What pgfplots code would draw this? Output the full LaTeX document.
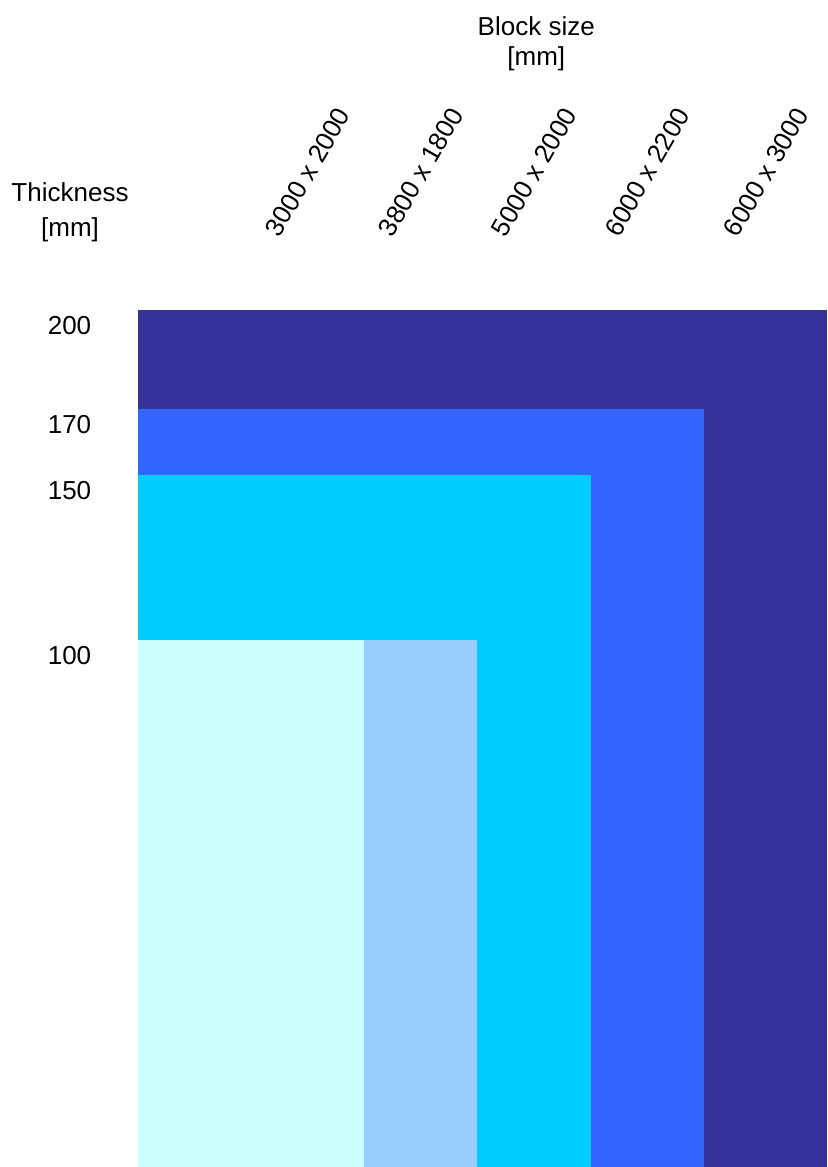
\documentclass[border=0pt]{standalone}
\usepackage{pgfplots}
\pgfplotsset{compat=1.18}
\usepackage{fontspec}
\setmainfont{Liberation Sans}
\definecolor{cNavy}{HTML}{333399}
\definecolor{cBlue}{HTML}{3366FF}
\definecolor{cCyan}{HTML}{00CCFF}
\definecolor{cLBlue}{HTML}{99CCFF}
\definecolor{cLCyan}{HTML}{CCFFFF}
\begin{document}
\begin{tikzpicture}
\begin{axis}[
  scale only axis,
  width=344.5pt, height=428.5pt,
  xmin=0, xmax=6.09,
  ymin=-59.7, ymax=200,
  axis line style={draw=none},
  tick style={draw=none},
  xtick={1.5,2.5,3.5,4.5,5.55},
  xticklabels={3000 x 2000,3800 x 1800,5000 x 2000,6000 x 2200,6000 x 3000},
  xticklabel pos=upper,
  xticklabel style={yshift=69pt, rotate=60, anchor=center, font=\fontsize{13}{15}\selectfont},
  ytick={100,150,170,200},
  yticklabels={100,150,170,200},
  yticklabel style={anchor=center, xshift=-34.25pt, yshift=-7.75pt, font=\fontsize{13}{15}\selectfont},
  /pgf/number format/assume math mode=true,
  clip=true,
]
\addplot[fill=cNavy, draw=none] coordinates {(0,-59.7)(0,200)(6.09,200)(6.09,-59.7)} -- cycle;
\addplot[fill=cBlue, draw=none] coordinates {(0,-59.7)(0,170)(5,170)(5,-59.7)} -- cycle;
\addplot[fill=cCyan, draw=none] coordinates {(0,-59.7)(0,150)(4,150)(4,-59.7)} -- cycle;
\addplot[fill=cLBlue, draw=none] coordinates {(0,-59.7)(0,100)(3,100)(3,-59.7)} -- cycle;
\addplot[fill=cLCyan, draw=none] coordinates {(0,-59.7)(0,100)(2,100)(2,-59.7)} -- cycle;
\coordinate (sw) at (rel axis cs:0,0);
\coordinate (ne) at (rel axis cs:1,1);
\coordinate (tl) at (rel axis cs:0,1);
\coordinate (bs) at (axis cs:3.52,200);
\end{axis}
\node[align=center, anchor=center, font=\fontsize{13}{15}\selectfont] at ([xshift=-34pt, yshift=49pt]tl) {Thickness\\[2.5pt]{}[mm]};
\node[align=center, anchor=center, font=\fontsize{13}{15}\selectfont] at ([yshift=133pt]bs) {Block size\\{}[mm]};
\pgfresetboundingbox
\path[use as bounding box] ([xshift=-69pt]sw) rectangle ([yshift=155pt]ne);
\end{tikzpicture}
\end{document}
